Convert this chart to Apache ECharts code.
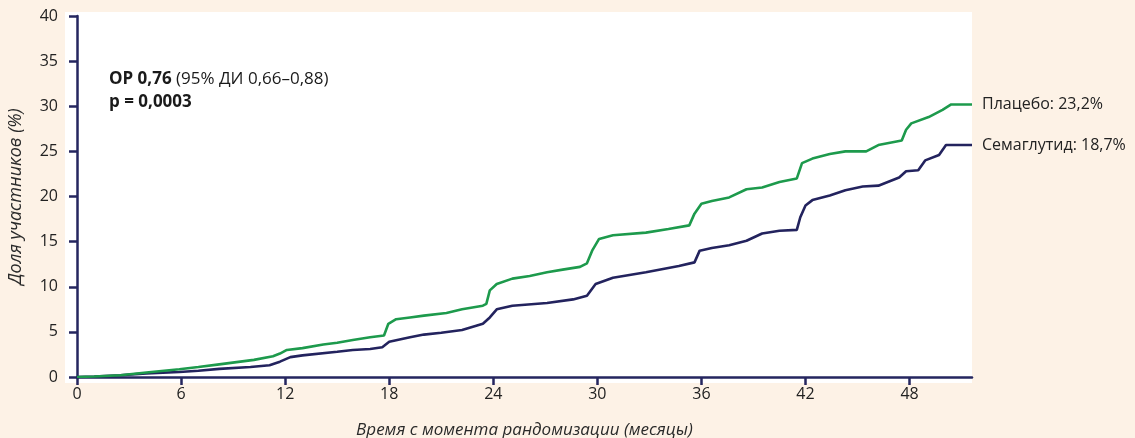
<!DOCTYPE html>
<html>
<head>
<meta charset="utf-8">
<script src="https://cdn.jsdelivr.net/npm/echarts@6/dist/echarts.min.js"></script>
<style>
html,body{margin:0;padding:0;background:#fdf2e6;}
#c{width:1135px;height:438px;}
</style>
</head>
<body>
<div id="c"></div>
<script>
var xTicks = [0, 6, 12, 18, 24, 30, 36, 42, 48];
var yTicks = [0, 5, 10, 15, 20, 25, 30, 35, 40];

var placeboMonths = [0,1,2.5,4,5.9,7,8.2,9.2,10.2,11.3,11.7,12.1,13,14.2,15,15.9,16.9,17.7,17.95,18.4,19.2,20,21.3,22.2,23.4,23.6,23.8,24.2,25.1,26.1,27.1,28,29,29.4,29.7,30.1,30.9,32.8,34.1,35.3,35.6,36,36.6,37.6,38.6,39.5,40.5,41.5,41.8,42.4,43.4,44.3,45.5,46.2,47.55,47.8,48.1,49.1,49.9,50.4,51.6];
var placeboValues = [0,0.05,0.2,0.5,0.85,1.1,1.4,1.65,1.9,2.3,2.6,3.0,3.2,3.6,3.8,4.1,4.4,4.6,5.9,6.4,6.6,6.8,7.1,7.5,7.9,8.1,9.6,10.3,10.9,11.2,11.6,11.9,12.2,12.6,14.0,15.3,15.7,16.0,16.4,16.8,18.1,19.2,19.5,19.9,20.8,21.0,21.6,22.0,23.7,24.2,24.7,25.0,25.0,25.7,26.2,27.4,28.1,28.8,29.6,30.2,30.2];

var semaMonths = [0,1,2.5,4,5.9,7,8.2,10,11.1,11.7,12.3,13,15,15.9,16.9,17.6,18,19.2,20,21,22.2,23.4,23.8,24.2,25.1,27.1,28.6,29.4,29.9,30.9,32.8,34.7,35.6,35.9,36.6,37.6,38.6,39.5,40.5,41.5,41.7,42.0,42.4,43.4,44.3,45.3,46.2,47.4,47.8,48.5,48.9,49.7,50.1,51.6];
var semaValues = [0,0.05,0.2,0.4,0.55,0.7,0.9,1.1,1.3,1.7,2.2,2.4,2.8,3.0,3.1,3.3,3.9,4.4,4.7,4.9,5.2,5.9,6.6,7.5,7.9,8.2,8.6,9.0,10.3,11.0,11.6,12.3,12.7,14.0,14.3,14.6,15.1,15.9,16.2,16.3,17.7,19.0,19.6,20.1,20.7,21.1,21.2,22.1,22.8,22.9,24.0,24.6,25.7,25.7];

var seriesNames = ['Плацебо', 'Семаглутид'];
var seriesEndText = ['Плацебо: 23,2%', 'Семаглутид: 18,7%'];

function zip(a, b) { return a.map(function (v, i) { return [v, b[i]]; }); }

var FONT = 'Open Sans';
var FS = 16;
var NAVY = '#25265f';
var chart = echarts.init(document.getElementById('c'), null, {renderer: 'canvas'});
chart.setOption({
  backgroundColor: '#fdf2e6',
  animation: false,
  graphic: [
    {type: 'rect', shape: {x: 65, y: 12, width: 907, height: 371}, style: {fill: '#ffffff'}, z: -10, silent: true},
    {type: 'text', left: 109, top: 68, style: {
      text: '{b|ОР 0,76} (95% ДИ 0,66–0,88)\n{b|p = 0,0003}',
      font: '17px "' + FONT + '"', fill: '#1a1a1a', lineHeight: 23,
      rich: {b: {fontWeight: 'bold', fontSize: 17, fontFamily: FONT, fill: '#1a1a1a', lineHeight: 23}}
    }, z: 10}
  ],
  grid: {left: 77, top: 16, right: 163, bottom: 61, containLabel: false, outerBoundsMode: 'none'},
  xAxis: {
    type: 'value', min: 0, max: 51.6, interval: 6,
    name: 'Время с момента рандомизации (месяцы)',
    nameLocation: 'middle', nameGap: 45,
    nameTextStyle: {fontFamily: FONT, fontStyle: 'italic', fontSize: 17, color: '#2a2a2a'},
    axisLine: {show: true, onZero: false, lineStyle: {color: NAVY, width: 2.5}},
    axisTick: {show: true, inside: false, length: 8, lineStyle: {color: NAVY, width: 2.5},
      customValues: xTicks},
    axisLabel: {fontFamily: FONT, fontSize: FS, color: '#222', margin: 9,
      customValues: xTicks},
    splitLine: {show: false}
  },
  yAxis: {
    type: 'value', min: 0, max: 40, interval: 5,
    name: 'Доля участников (%)',
    nameLocation: 'middle', nameGap: 52, nameRotate: 90,
    nameTextStyle: {fontFamily: FONT, fontStyle: 'italic', fontSize: 18, color: '#2a2a2a'},
    axisLine: {show: true, onZero: false, lineStyle: {color: NAVY, width: 2.5}},
    axisTick: {show: true, inside: false, length: 8, lineStyle: {color: NAVY, width: 2.5},
      customValues: yTicks},
    axisLabel: {fontFamily: FONT, fontSize: FS, color: '#222', margin: 19, customValues: yTicks},
    splitLine: {show: false}
  },
  series: [
    {
      name: seriesNames[0], type: 'line', data: zip(placeboMonths, placeboValues),
      showSymbol: false, symbol: 'none', z: 3,
      lineStyle: {color: '#1d9a4c', width: 2.6},
      itemStyle: {color: '#1d9a4c'},
      endLabel: {show: true, formatter: seriesEndText[0], distance: 10,
        fontFamily: FONT, fontSize: FS, color: '#222'}
    },
    {
      name: seriesNames[1], type: 'line', data: zip(semaMonths, semaValues),
      showSymbol: false, symbol: 'none', z: 2,
      lineStyle: {color: '#23235e', width: 2.6},
      itemStyle: {color: '#23235e'},
      endLabel: {show: true, formatter: seriesEndText[1], distance: 10,
        fontFamily: FONT, fontSize: FS, color: '#222'}
    }
  ]
});
</script>
</body>
</html>
